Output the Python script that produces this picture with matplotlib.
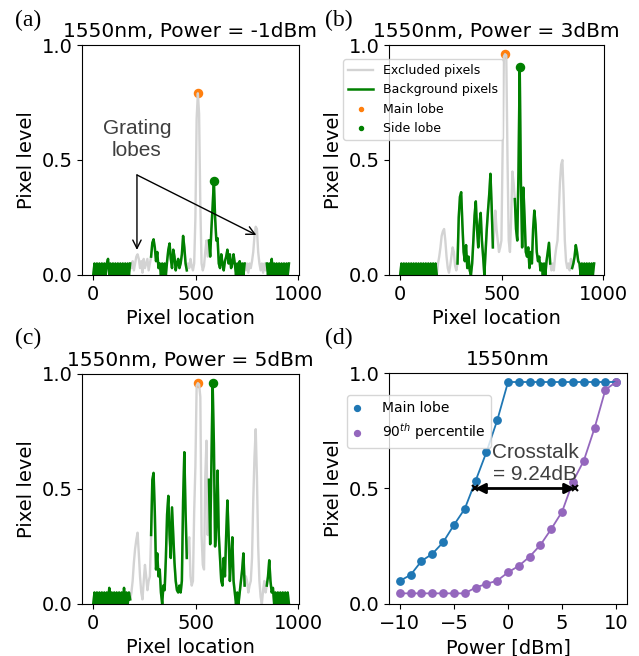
import numpy as np
import matplotlib.pyplot as plt

# pixel grid of the line profiles (every 6th camera pixel)
pixels = np.arange(0, 960, 6)
excluded_ranges = [(182, 276), (458, 562), (742, 845)]
main_range = (458, 562)

# line profiles at 1550nm
profile_m1dbm = [
    0.00, 0.05, 0.00, 0.05, 0.00, 0.05, 0.00, 0.05, 0.00, 0.05,
    0.00, 0.05, 0.07, 0.00, 0.05, 0.00, 0.05, 0.00, 0.05, 0.00,
    0.05, 0.00, 0.05, 0.00, 0.05, 0.00, 0.05, 0.00, 0.05, 0.00,
    0.05, 0.03, 0.06, 0.02, 0.05, 0.08, 0.09, 0.07, 0.03, 0.06,
    0.01, 0.07, 0.03, 0.05, 0.07, 0.02, 0.05, 0.08, 0.14, 0.155,
    0.12, 0.06, 0.10, 0.03, 0.05, 0.00, 0.05, 0.00, 0.05, 0.00,
    0.06, 0.11, 0.137, 0.07, 0.03, 0.11, 0.08, 0.02, 0.05, 0.07,
    0.03, 0.05, 0.09, 0.17, 0.12, 0.05, 0.02, 0.05, 0.03, 0.07,
    0.04, 0.02, 0.05, 0.25, 0.68, 0.79, 0.70, 0.30, 0.05, 0.02,
    0.04, 0.10, 0.15, 0.08, 0.15, 0.08, 0.20, 0.30, 0.41, 0.25,
    0.15, 0.16, 0.05, 0.03, 0.09, 0.05, 0.02, 0.06, 0.08, 0.11,
    0.05, 0.09, 0.03, 0.05, 0.09, 0.05, 0.00, 0.05, 0.00, 0.06,
    0.00, 0.05, 0.00, 0.05, 0.02, 0.05, 0.01, 0.05, 0.03, 0.06,
    0.10, 0.17, 0.21, 0.20, 0.10, 0.05, 0.02, 0.05, 0.01, 0.05,
    0.02, 0.05, 0.00, 0.05, 0.00, 0.07, 0.00, 0.05, 0.00, 0.05,
    0.00, 0.05, 0.00, 0.05, 0.00, 0.05, 0.00, 0.05, 0.00, 0.05,
]
profile_3dbm = [
    0.00, 0.05, 0.00, 0.05, 0.00, 0.05, 0.00, 0.05, 0.00, 0.05,
    0.00, 0.05, 0.00, 0.05, 0.00, 0.05, 0.00, 0.05, 0.00, 0.05,
    0.00, 0.05, 0.00, 0.05, 0.00, 0.05, 0.00, 0.05, 0.00, 0.05,
    0.00, 0.05, 0.08, 0.12, 0.17, 0.19, 0.20, 0.15, 0.08, 0.03,
    0.01, 0.04, 0.08, 0.12, 0.10, 0.04, 0.02, 0.05, 0.25, 0.34,
    0.36, 0.22, 0.10, 0.06, 0.13, 0.03, 0.08, 0.02, 0.00, 0.05,
    0.15, 0.26, 0.32, 0.20, 0.12, 0.22, 0.27, 0.15, 0.08, 0.00,
    0.10, 0.20, 0.28, 0.35, 0.44, 0.30, 0.12, 0.18, 0.28, 0.20,
    0.15, 0.10, 0.12, 0.15, 0.55, 0.95, 0.96, 0.955, 0.50, 0.15,
    0.10, 0.25, 0.45, 0.40, 0.33, 0.20, 0.15, 0.45, 0.906, 0.40,
    0.12, 0.38, 0.25, 0.10, 0.08, 0.12, 0.03, 0.10, 0.05, 0.20,
    0.28, 0.22, 0.10, 0.06, 0.08, 0.02, 0.05, 0.00, 0.05, 0.00,
    0.06, 0.10, 0.14, 0.05, 0.02, 0.05, 0.02, 0.08, 0.12, 0.15,
    0.28, 0.40, 0.48, 0.50, 0.35, 0.15, 0.06, 0.03, 0.05, 0.02,
    0.07, 0.03, 0.05, 0.08, 0.13, 0.10, 0.06, 0.05, 0.00, 0.05,
    0.00, 0.05, 0.00, 0.05, 0.00, 0.05, 0.00, 0.05, 0.00, 0.05,
]
profile_5dbm = [
    0.00, 0.05, 0.00, 0.05, 0.00, 0.05, 0.00, 0.05, 0.00, 0.05,
    0.00, 0.05, 0.00, 0.07, 0.00, 0.05, 0.00, 0.05, 0.00, 0.05,
    0.00, 0.05, 0.00, 0.05, 0.00, 0.07, 0.00, 0.05, 0.00, 0.05,
    0.02, 0.05, 0.10, 0.18, 0.24, 0.28, 0.31, 0.22, 0.12, 0.05,
    0.02, 0.10, 0.17, 0.12, 0.06, 0.10, 0.12, 0.30, 0.54, 0.57,
    0.40, 0.15, 0.22, 0.12, 0.15, 0.05, 0.00, 0.08, 0.06, 0.20,
    0.39, 0.47, 0.30, 0.20, 0.42, 0.30, 0.18, 0.10, 0.06, 0.05,
    0.08, 0.05, 0.10, 0.45, 0.66, 0.40, 0.20, 0.25, 0.29, 0.12,
    0.08, 0.10, 0.40, 0.60, 0.95, 0.96, 0.955, 0.90, 0.30, 0.17,
    0.15, 0.55, 0.71, 0.30, 0.54, 0.26, 0.60, 0.96, 0.70, 0.25,
    0.35, 0.58, 0.30, 0.20, 0.10, 0.08, 0.20, 0.12, 0.30, 0.45,
    0.30, 0.10, 0.20, 0.29, 0.10, 0.05, 0.00, 0.05, 0.00, 0.05,
    0.10, 0.15, 0.22, 0.08, 0.12, 0.10, 0.05, 0.08, 0.10, 0.20,
    0.45, 0.64, 0.76, 0.55, 0.25, 0.10, 0.03, 0.00, 0.06, 0.10,
    0.05, 0.08, 0.12, 0.19, 0.10, 0.05, 0.07, 0.00, 0.05, 0.00,
    0.05, 0.00, 0.05, 0.00, 0.05, 0.00, 0.05, 0.00, 0.05, 0.00,
]

# power sweep at 1550nm
power_dbm = [-10, -9, -8, -7, -6, -5, -4, -3, -2, -1, 0,
             1, 2, 3, 4, 5, 6, 7, 8, 9, 10]
main_lobe_level = [0.10, 0.126, 0.186, 0.217, 0.267, 0.342, 0.412, 0.533, 0.657, 0.795, 0.961,
                   0.961, 0.961, 0.961, 0.961, 0.961, 0.961, 0.961, 0.961, 0.961, 0.961]
pct90_level = [0.046, 0.046, 0.046, 0.046, 0.046, 0.046, 0.046, 0.071, 0.087, 0.101, 0.137,
               0.165, 0.205, 0.256, 0.325, 0.400, 0.530, 0.620, 0.762, 0.928, 0.961]
crosstalk_db = 9.24
crosstalk_start = -3.05

FS = 14
note_font = dict(family='Liberation Sans', fontsize=15, color='#3f3f3f')
panel_font = dict(family='Liberation Serif', fontsize=17)


def draw_profile(ax, profile, title):
    profile = np.array(profile)
    excluded = np.zeros(len(pixels), dtype=bool)
    for lo, hi in excluded_ranges:
        excluded |= (pixels >= lo) & (pixels <= hi)
    background = np.where(excluded, np.nan, profile)

    in_main = (pixels >= main_range[0]) & (pixels <= main_range[1])
    i_main = np.argmax(np.where(in_main, profile, -1))
    i_side = np.nanargmax(background)

    ax.scatter(pixels[i_main], profile[i_main], s=34, color='tab:orange',
               zorder=1.9, label='Main lobe')
    ax.plot(pixels, profile, color='lightgray', lw=1.7, zorder=2,
            label='Excluded pixels')
    ax.plot(pixels, background, color='green', lw=1.8, zorder=2.1,
            label='Background pixels')
    ax.scatter(pixels[i_side], profile[i_side], s=34, color='green',
               zorder=3, label='Side lobe')

    ax.set_xlim(-55, 1003)
    ax.set_ylim(0, 1)
    ax.set_xticks([0, 500, 1000])
    ax.set_yticks([0, 0.5, 1.0])
    ax.tick_params(labelsize=FS)
    ax.set_xlabel('Pixel location', fontsize=FS)
    ax.set_ylabel('Pixel level', fontsize=FS)
    ax.set_title(title, fontsize=14.5)


fig = plt.figure(figsize=(6.39, 6.56), dpi=100)
ax_a = fig.add_axes([0.1283, 0.5808, 0.3396, 0.3506])
ax_b = fig.add_axes([0.6088, 0.5808, 0.3365, 0.3506])
ax_c = fig.add_axes([0.1283, 0.0793, 0.3396, 0.3506])
ax_d = fig.add_axes([0.6088, 0.0793, 0.3725, 0.3521])

draw_profile(ax_a, profile_m1dbm, '1550nm, Power = -1dBm')
draw_profile(ax_b, profile_3dbm, '1550nm, Power = 3dBm')
draw_profile(ax_c, profile_5dbm, '1550nm, Power = 5dBm')

# grating lobe callout
ax_a.text(213, 0.589, 'Grating\nlobes', ha='center', va='center', **note_font)
for target in [(213, 0.109), (795, 0.174)]:
    ax_a.annotate('', xy=target, xytext=(213, 0.435),
                  arrowprops=dict(arrowstyle='->', color='black', lw=1,
                                  mutation_scale=15, shrinkA=0, shrinkB=0))

handles, labels = ax_b.get_legend_handles_labels()
order = [1, 2, 0, 3]
ax_b.legend([handles[i] for i in order], [labels[i] for i in order],
            loc='upper left', bbox_to_anchor=(-0.214, 0.939), borderaxespad=0,
            fontsize=9, markerscale=0.5)

# power sweep
ax_d.plot(power_dbm, main_lobe_level, color='tab:blue', lw=1.3)
ax_d.scatter(power_dbm, main_lobe_level, s=28, color='tab:blue', label='Main lobe')
ax_d.plot(power_dbm, pct90_level, color='tab:purple', lw=1.3)
ax_d.scatter(power_dbm, pct90_level, s=28, color='tab:purple',
             label='90$^{th}$ percentile')
x_end = crosstalk_start + crosstalk_db
ax_d.annotate('', xy=(x_end, 0.5), xytext=(crosstalk_start, 0.5),
              arrowprops=dict(arrowstyle='<|-|>', color='black', lw=2,
                              mutation_scale=15, shrinkA=0, shrinkB=0))
ax_d.plot([crosstalk_start, x_end], [0.5, 0.5], 'x', color='black', ms=4, mew=1.5)
ax_d.text(2.5, 0.61, 'Crosstalk\n= %.2fdB' % crosstalk_db,
          ha='center', va='center', **note_font)
ax_d.set_xlim(-11, 11)
ax_d.set_ylim(0, 1)
ax_d.set_xticks([-10, -5, 0, 5, 10])
ax_d.set_yticks([0, 0.5, 1.0])
ax_d.tick_params(labelsize=FS)
ax_d.set_xlabel('Power [dBm]', fontsize=FS)
ax_d.set_ylabel('Pixel level', fontsize=FS)
ax_d.set_title('1550nm', fontsize=14.5)
ax_d.legend(loc='upper left', bbox_to_anchor=(-0.176, 0.905), borderaxespad=0,
            fontsize=10, markerscale=0.8, handlelength=0.6, handletextpad=1.5)

fig.text(15 / 639, 1 - 20 / 656, '(a)', ha='left', va='center', **panel_font)
fig.text(325 / 639, 1 - 20 / 656, '(b)', ha='left', va='center', **panel_font)
fig.text(15 / 639, 1 - 338 / 656, '(c)', ha='left', va='center', **panel_font)
fig.text(325 / 639, 1 - 338 / 656, '(d)', ha='left', va='center', **panel_font)

fig.savefig('out.png', dpi=100)
